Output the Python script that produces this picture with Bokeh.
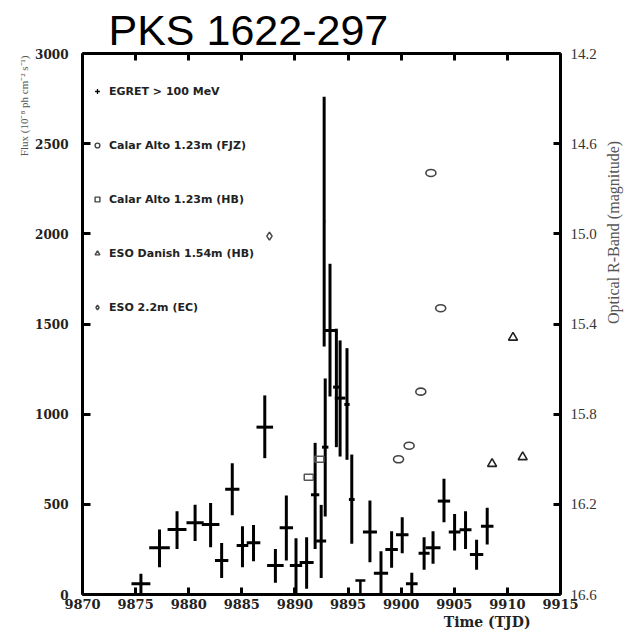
import math
from bokeh.plotting import figure
from bokeh.models import (Range1d, LinearAxis, FixedTicker, Legend, LegendItem, Title,
                          ColumnDataSource, PrintfTickFormatter)
from bokeh.embed import file_html
from bokeh.resources import INLINE

# ---------------- data ----------------
# EGRET > 100 MeV flux (1e-8 ph cm^-2 s^-1), time in TJD
egret_t = [9875.5, 9877.25, 9878.9, 9880.6, 9882.06, 9883.1, 9884.1, 9885.06, 9886.1, 9887.16,
           9888.16, 9889.19, 9890.1, 9891.1, 9891.9, 9892.47, 9892.75, 9892.85, 9893.3, 9893.9,
           9894.25, 9894.9, 9895.35, 9897.06, 9898.1, 9899.1, 9900.1, 9901.0, 9902.16, 9903.0,
           9904.03, 9905.03, 9906.06, 9907.1, 9908.1]
egret_flux = [59, 259, 360, 398, 388, 189, 584, 272, 287, 928,
              161, 370, 161, 178, 553, 296, 2068, 817, 1464, 1150,
              1089, 1054, 527, 346, 118, 250, 331, 59, 229, 259,
              518, 346, 359, 222, 379]
egret_lo = [0, 151, 253, 296, 262, 92, 440, 151, 185, 756,
            65, 189, 0, 32, 253, 92, 1375, 433, 1098, 817,
            765, 747, 281, 179, 4, 148, 229, 0, 137, 170,
            401, 244, 253, 137, 277]
egret_hi = [115, 360, 462, 497, 507, 285, 728, 379, 386, 1104,
            253, 549, 312, 318, 841, 497, 2760, 1198, 1834, 1474,
            1409, 1366, 776, 521, 240, 351, 429, 120, 318, 351,
            642, 447, 462, 303, 481]
egret_dt = [0.89, 0.97, 0.89, 0.81, 0.83, 0.63, 0.67, 0.55, 0.64, 0.78,
            0.78, 0.63, 0.58, 0.66, 0.39, 0.47, 0.1, 0.3, 0.47, 0.31,
            0.5, 0.25, 0.27, 0.66, 0.67, 0.59, 0.59, 0.55, 0.52, 0.7,
            0.58, 0.55, 0.56, 0.63, 0.59]

# EGRET upper limit
ul_t = [9896.16]
ul_flux = [78]
ul_dt = [0.47]

# Optical R-band magnitudes
fjz_t = [9899.75, 9900.75, 9901.85, 9902.8, 9903.72]
fjz_mag = [16.00, 15.94, 15.70, 14.73, 15.33]
hb_t = [9891.3, 9892.3]
hb_mag = [16.08, 16.00]
dan_t = [9908.56, 9910.53, 9911.44]
dan_mag = [16.02, 15.46, 15.99]
eso_t = [9887.6]
eso_mag = [15.01]

x_ticks = [9870, 9875, 9880, 9885, 9890, 9895, 9900, 9905, 9910, 9915]
flux_ticks = [0, 500, 1000, 1500, 2000, 2500, 3000]
mag_ticks = [14.2, 14.6, 15.0, 15.4, 15.8, 16.2, 16.6]

legend_labels = ["EGRET > 100 MeV", "Calar Alto 1.23m (FJZ)", "Calar Alto 1.23m (HB)",
                 "ESO Danish 1.54m (HB)", "ESO 2.2m (EC)"]

# ---------------- figure ----------------
p = figure(width=633, height=634, output_backend="svg", toolbar_location=None,
           x_range=Range1d(9870, 9915), y_range=Range1d(0, 3000),
           min_border_left=82, min_border_right=71, min_border_top=53, min_border_bottom=40)
p.extra_y_ranges = {"mag": Range1d(16.6, 14.2)}
p.grid.visible = False
p.outline_line_color = None
p.background_fill_color = "white"
p.border_fill_color = "white"
p.title.visible = False


def style_axis(ax, ticker, tick_in, font, size, bold, color, standoff):
    ax.ticker = FixedTicker(ticks=ticker)
    ax.axis_line_width = 3
    ax.axis_line_color = "black"
    ax.major_tick_in = tick_in
    ax.major_tick_out = 0
    ax.major_tick_line_width = 3
    ax.major_tick_line_color = "black"
    ax.minor_tick_line_color = None
    ax.major_label_text_font = font
    ax.major_label_text_font_size = size
    ax.major_label_text_font_style = "bold" if bold else "normal"
    ax.major_label_text_color = color
    ax.major_label_standoff = standoff


style_axis(p.xaxis[0], x_ticks, 7, "DejaVu Serif", "13px", True, "#222", 4)
style_axis(p.yaxis[0], flux_ticks, 8, "DejaVu Serif", "12px", True, "#222", 14)

right = LinearAxis(y_range_name="mag", formatter=PrintfTickFormatter(format="%.1f"))
style_axis(right, mag_ticks, 7, "Liberation Serif", "15px", False, "#333", 10)
right.axis_label = "Optical R-Band (magnitude)"
right.axis_label_orientation = math.pi / 2
right.axis_label_text_font = "Liberation Serif"
right.axis_label_text_font_size = "16px"
right.axis_label_text_font_style = "normal"
right.axis_label_text_color = "#555555"
right.axis_label_standoff = 14
p.add_layout(right, "right")

top = LinearAxis()
style_axis(top, x_ticks, 7, "DejaVu Serif", "0px", False, "#222", 0)
top.major_label_text_color = None
p.add_layout(top, "above")

# ---------------- EGRET crosses ----------------
src = ColumnDataSource(dict(
    t=egret_t, f=egret_flux, lo=egret_lo, hi=egret_hi,
    t0=[t - d for t, d in zip(egret_t, egret_dt)],
    t1=[t + d for t, d in zip(egret_t, egret_dt)]))
p.segment(x0="t", y0="lo", x1="t", y1="hi", source=src, line_color="black", line_width=3)
p.segment(x0="t0", y0="f", x1="t1", y1="f", source=src, line_color="black", line_width=3)

ul_src = ColumnDataSource(dict(
    t=ul_t, f=ul_flux, z=[0] * len(ul_t),
    t0=[t - d for t, d in zip(ul_t, ul_dt)],
    t1=[t + d for t, d in zip(ul_t, ul_dt)]))
p.segment(x0="t", y0="z", x1="t", y1="f", source=ul_src, line_color="black", line_width=2.5)
p.segment(x0="t0", y0="f", x1="t1", y1="f", source=ul_src, line_color="black", line_width=2.5)

# ---------------- optical ----------------
ocol = "#444444"
p.ellipse(x=fjz_t, y=fjz_mag, width=10, height=7, width_units="screen", height_units="screen",
          fill_color=None, line_color=ocol, line_width=1.6, y_range_name="mag")
p.rect(x=hb_t, y=hb_mag, width=9, height=6, width_units="screen", height_units="screen",
       fill_color=None, line_color="#555555", line_width=1.5, y_range_name="mag")
p.scatter(x=dan_t, y=dan_mag, marker="triangle", size=9, fill_color=None,
          line_color="#222222", line_width=1.6, y_range_name="mag")
p.scatter(x=eso_t, y=eso_mag, marker="diamond", size=8, fill_color=None,
          line_color=ocol, line_width=1.5, y_range_name="mag")

# ---------------- legend (proxy glyphs, not drawn in the plot area) ----------------
nan = float("nan")
r1 = p.scatter(x=[nan], y=[nan], marker="cross", size=9, line_color="black", line_width=1.3)
r2 = p.scatter(x=[nan], y=[nan], marker="circle", size=7, fill_color=None, line_color=ocol, line_width=1.4)
r3 = p.scatter(x=[nan], y=[nan], marker="square", size=7, fill_color=None, line_color=ocol, line_width=1.4)
r4 = p.scatter(x=[nan], y=[nan], marker="triangle", size=9, fill_color=None, line_color=ocol, line_width=1.4)
r5 = p.scatter(x=[nan], y=[nan], marker="diamond", size=8, fill_color=None, line_color=ocol, line_width=1.4)

legend = Legend(items=[LegendItem(label=l, renderers=[r]) for l, r in
                       zip(legend_labels, [r1, r2, r3, r4, r5])],
                location=(9, 280), orientation="vertical",
                border_line_color=None, background_fill_alpha=0,
                padding=0, margin=0, spacing=40,
                glyph_height=14, glyph_width=12, label_height=14, label_standoff=6,
                label_text_font="DejaVu Sans", label_text_font_style="bold",
                label_text_font_size="11px", label_text_color="#222222")
p.add_layout(legend)

# ---------------- titles ----------------
p.add_layout(Title(text="PKS 1622-297", align="left", offset=26, standoff=0,
                   text_font="Liberation Sans", text_font_size="43px",
                   text_font_style="normal", text_color="black"), "above")
p.add_layout(Title(text="Flux (10\u207b\u2078 ph cm\u207b\u00b2 s\u207b\u00b9)", align="right",
                   offset=2, standoff=6, text_font="Liberation Serif", text_font_size="11px",
                   text_font_style="normal", text_color="#555555"), "left")
p.add_layout(Title(text="Time (TJD)", align="right", offset=30, standoff=0,
                   text_font="DejaVu Serif", text_font_size="14px",
                   text_font_style="bold", text_color="#222222"), "below")

open("out.html", "w").write(file_html(p, INLINE))
